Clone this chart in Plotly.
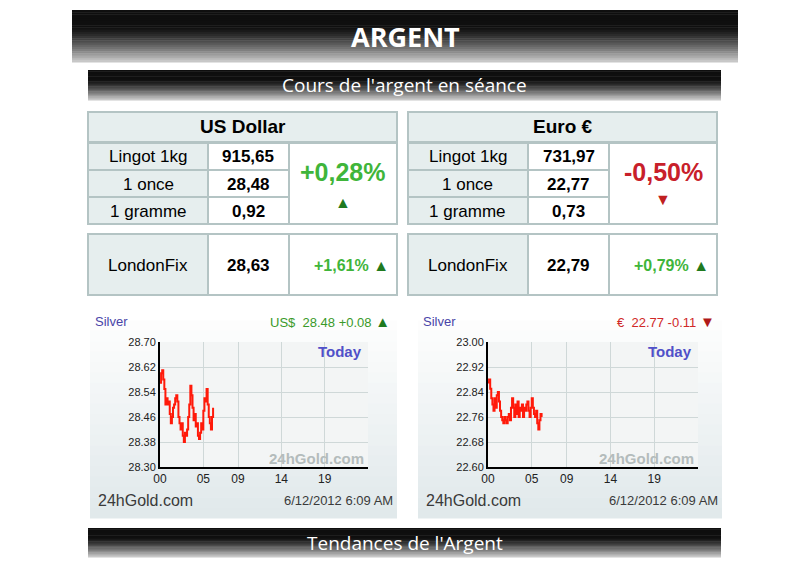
import plotly.graph_objects as go

W, H = 800, 572
OFF = 8  # page body margin of the browser

# intraday silver quotes (every 7.5 min from 00:00)
usd_prices = [28.57, 28.60, 28.61, 28.58, 28.55, 28.50, 28.52, 28.50, 28.51, 28.47,
              28.44, 28.46, 28.49, 28.50, 28.52, 28.53, 28.51, 28.46, 28.44, 28.42,
              28.44, 28.40, 28.38, 28.41, 28.40, 28.42, 28.46, 28.50, 28.56, 28.53,
              28.49, 28.45, 28.47, 28.43, 28.44, 28.40, 28.39, 28.41, 28.44, 28.42,
              28.48, 28.52, 28.51, 28.55, 28.50, 28.46, 28.44, 28.42, 28.46, 28.49]
eur_prices = [22.87, 22.88, 22.85, 22.82, 22.80, 22.78, 22.82, 22.79, 22.83, 22.84,
              22.81, 22.78, 22.76, 22.75, 22.74, 22.76, 22.75, 22.74, 22.76, 22.77,
              22.75, 22.79, 22.82, 22.79, 22.76, 22.80, 22.77, 22.81, 22.76, 22.79,
              22.78, 22.80, 22.76, 22.79, 22.78, 22.80, 22.81, 22.78, 22.76, 22.79,
              22.82, 22.79, 22.77, 22.76, 22.78, 22.74, 22.72, 22.75, 22.77, 22.76]
hours = [i * 0.125 for i in range(len(usd_prices))]

row_labels = ["Lingot 1kg", "1 once", "1 gramme"]
usd_values = ["915,65", "28,48", "0,92"]
eur_values = ["731,97", "22,77", "0,73"]
usd_change, eur_change = "+0,28%", "-0,50%"
usd_fix, eur_fix = "28,63", "22,79"
usd_fix_change, eur_fix_change = "+1,61%", "+0,79%"

usd_ticks = [28.30, 28.38, 28.46, 28.54, 28.62, 28.70]
eur_ticks = [22.60, 22.68, 22.76, 22.84, 22.92, 23.00]
hour_ticks = [0, 5, 9, 14, 19]
hour_labels = ["00", "05", "09", "14", "19"]

FONT = "Liberation Sans"
GREEN, RED = "#3fb53a", "#c8202a"

shapes, annots = [], []


def px(x):
    return (x - OFF) / W


def py(y):
    return 1 - (y - OFF) / H


def rect(x0, y0, x1, y1, fill, line=None, lw=0):
    shapes.append(dict(type="rect", xref="paper", yref="paper", x0=px(x0), x1=px(x1),
                       y0=py(y0), y1=py(y1), fillcolor=fill, layer="below",
                       line=dict(width=lw, color=line or fill)))


def text(x, y, s, size, color="black", bold=False, anchor="center", family=FONT):
    if bold:
        s = "<b>" + s + "</b>"
    annots.append(dict(x=px(x), y=py(y), xref="paper", yref="paper", text=s, showarrow=False,
                       xanchor=anchor, yanchor="middle",
                       font=dict(size=size, color=color, family=family)))


def banner(x0, y0, x1, y1, label, size, bold):
    n = 24
    h = (y1 - y0) / n
    for i in range(n):
        t = max(0, (i - n * 0.3) / (n * 0.7))
        c = int(15 + 200 * t ** 1.3)
        rect(x0, y0 + i * h, x1, y0 + (i + 1) * h + 0.5, f"rgb({c},{c},{c})")
    text((x0 + x1) / 2, (y0 + y1) / 2, label, size, "white", bold, family="Open Sans")


banner(72, 10, 738, 62, "ARGENT", 27, True)
banner(88, 70, 721, 100, "Cours de l'argent en séance", 19, False)
banner(88, 528, 721, 557, "Tendances de l'Argent", 19, False)

LBL, BRD = "#e6eeee", "#b4c4c4"


def table(x0, title, values, change, fix, fix_change, up):
    c1, c2, x1 = x0 + 120, x0 + 201, x0 + 309
    rect(x0, 112, x1, 142, LBL, BRD, 2)
    text((x0 + x1) / 2, 127, title, 19, bold=True)
    for i, (lab, v) in enumerate(zip(row_labels, values)):
        y0 = 143 + i * 27
        rect(x0, y0, c1, y0 + 27, LBL, BRD, 2)
        rect(c1, y0, c2, y0 + 27, "white", BRD, 2)
        text((x0 + c1) / 2, y0 + 14, lab, 17)
        text((c1 + c2) / 2, y0 + 14, v, 17, bold=True)
    rect(c2, 143, x1, 224, "white", BRD, 2)
    col = GREEN if up else RED
    text((c2 + x1) / 2, 172, change, 25, col, True)
    text((c2 + x1) / 2, 203 if up else 200, "▲" if up else "▼", 16, "#1f7a1f" if up else "#c02020")
    rect(x0, 234, c1, 295, LBL, BRD, 2)
    rect(c1, 234, c2, 295, "white", BRD, 2)
    rect(c2, 234, x1, 295, "white", BRD, 2)
    text((x0 + c1) / 2, 265, "LondonFix", 17)
    text((c1 + c2) / 2, 265, fix, 17, bold=True)
    text(x1 - 6, 265, fix_change + " <span style='color:#1f7a1f;font-size:16px'>▲</span>",
         16, GREEN, True, anchor="right")


table(88, "US Dollar", usd_values, usd_change, usd_fix, usd_fix_change, True)
table(408, "Euro €", eur_values, eur_change, eur_fix, eur_fix_change, False)


def chart_panel(x0, x1, head, up):
    n = 20
    h = (518 - 310) / n
    for i in range(n):
        t = i / (n - 1)
        r, g, b = int(255 - 30 * t), int(255 - 22 * t), int(255 - 20 * t)
        rect(x0, 310 + i * h, x1, 310 + (i + 1) * h + 0.5, f"rgb({r},{g},{b})")
    text(x0 + 3, 321, "Silver", 13, "#4a44a8", anchor="left")
    col = "#3a9a2a" if up else "#d02828"
    tri = "<span style='color:#1f7a1f;font-size:15px'>▲</span>" if up else \
        "<span style='color:#b01818;font-size:15px'>▼</span>"
    text(x1 - 5, 321, head + " " + tri, 13, col, anchor="right")
    text(x0 + 6, 500, "24hGold.com", 16, "#3a3a3a", anchor="left")
    text(x1 - 2, 500, "6/12/2012 6:09 AM", 13, "#3a3a3a", anchor="right")


chart_panel(90, 397, "US$  28.48 +0.08", True)
chart_panel(418, 722, "€  22.77 -0.11", False)

fig = go.Figure()
fig.add_trace(go.Scatter(x=hours, y=usd_prices, mode="lines", line=dict(color="#ff1a0a", width=2, shape="hv"),
                         xaxis="x", yaxis="y", showlegend=False))
fig.add_trace(go.Scatter(x=hours, y=eur_prices, mode="lines", line=dict(color="#ff1a0a", width=2, shape="hv"),
                         xaxis="x2", yaxis="y2", showlegend=False))

ax = dict(range=[0, 24], tickvals=hour_ticks, ticktext=hour_labels, showgrid=True, gridcolor="#cfd8d8",
          showline=True, linecolor="black", linewidth=2, ticks="", tickfont=dict(size=12, color="#222", family=FONT),
          zeroline=False, fixedrange=True, automargin=False)
ay = dict(showgrid=True, gridcolor="#cfd8d8", showline=True, linecolor="black", linewidth=2, ticks="",
          tickfont=dict(size=11, color="#222", family=FONT), zeroline=False, tickformat=".2f", automargin=False)

for i, (xa, xb, ticks) in enumerate([(160, 368, usd_ticks), (488, 698, eur_ticks)]):
    text(xb - 4, 351, "Today", 15, "#5050c8", True, anchor="right")
    text(xb - 2, 458, "24hGold.com", 15, "#b4bcbc", True, anchor="right")
    rect(xa, 342, xb, 467, "#f3f5f5")

fig.update_layout(
    width=W, height=H, margin=dict(l=0, r=0, t=0, b=0, pad=0, autoexpand=False),
    paper_bgcolor="white", plot_bgcolor="rgba(0,0,0,0)",
    xaxis=dict(ax, domain=[px(160), px(368)], anchor="y"),
    yaxis=dict(ay, domain=[py(467), py(342)], range=[usd_ticks[0], usd_ticks[-1]], tickvals=usd_ticks, anchor="x"),
    xaxis2=dict(ax, domain=[px(488), px(698)], anchor="y2"),
    yaxis2=dict(ay, domain=[py(467), py(342)], range=[eur_ticks[0], eur_ticks[-1]], tickvals=eur_ticks, anchor="x2"),
    shapes=shapes, annotations=annots,
)
fig.write_html("out.html")
